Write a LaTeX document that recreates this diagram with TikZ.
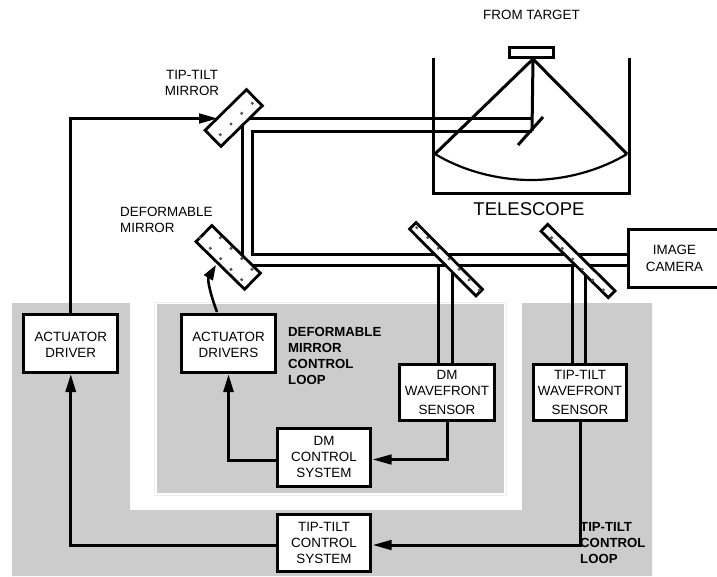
\documentclass[tikz,border=0pt]{standalone}
\usepackage{fontspec}
\setmainfont{Liberation Sans}
\usetikzlibrary{arrows.meta,calc}
\definecolor{panel}{HTML}{CCCCCC}
\definecolor{panedge}{HTML}{EEEEEE}
\definecolor{dotc}{HTML}{555555}
\newcommand{\lowerby}{\rule{0pt}{12.6pt}}
\tikzset{
  lbl/.style={font=\fontsize{13.4}{16}\selectfont,inner sep=0pt,align=center},
  lbll/.style={font=\fontsize{13.4}{16}\selectfont,inner sep=0pt,align=left},
  blbl/.style={font=\fontsize{13.2}{16}\selectfont\bfseries,inner sep=0pt,align=left},
  unit/.style={draw,line width=3pt,fill=white,inner sep=0pt,align=center,font=\fontsize{13.4}{16}\selectfont},
  mirrorbox/.style={draw,line width=2.8pt,fill=white,inner sep=0pt},
  sig/.style={line width=3pt},
  sigarrow/.style={line width=3pt,-{Triangle[length=18pt,width=10pt]}},
  sighoriz/.style={line width=3pt,-{Triangle[length=19pt,width=9.5pt]}},
  beam/.style={line width=3pt},
  optic/.style={line width=3pt},
  dot/.style={fill=dotc,draw=none}
}
\newcommand{\spots}[1]{\foreach \px/\py in {#1} {\fill[dot] (\px,\py) circle (1.7pt);}}
\begin{document}
\begin{tikzpicture}[x=1pt,y=-1pt]
\useasboundingbox (0,0) rectangle (717,576);
% shaded loops
\fill[panel] (12,303) -- (130,303) -- (130,510) -- (522,510) -- (522,303) -- (652,303) -- (652,576) -- (12,576) -- cycle;
\draw[panedge,line width=0.8pt,fill=white] (154.5,302) rectangle (506,495);
\fill[panel] (157,304) rectangle (504,493);
% named points
\coordinate (apex) at (533,59);
\coordinate (primL) at (435,154);
\coordinate (primR) at (627,154);
\coordinate (primB) at (531,180);
\coordinate (foldA) at (532,118.5);
\coordinate (foldB) at (532,131);
\coordinate (tel1) at (433,58);
\coordinate (tel2) at (433,193);
\coordinate (tel3) at (629,193);
\coordinate (tel4) at (629,58);
\coordinate (foldLo) at (518,145);
\coordinate (foldHi) at (543,117);
\coordinate (cornerA) at (252,131);
\coordinate (cornerB) at (252,254);
\coordinate (ttout) at (242,118.5);
\coordinate (dmin) at (242,258);
\coordinate (dmout) at (245,265);
\coordinate (camA) at (628,254);
\coordinate (camB) at (628,265);
\coordinate (bs1A) at (438,265);
\coordinate (bs1B) at (452,262);
\coordinate (bs2A) at (572,265);
\coordinate (bs2B) at (585,262);
% telescope
\draw[optic] (tel1) -- (tel2) -- (tel3) -- (tel4);
\draw[optic,line join=miter] (primL) -- (apex) -- (primR);
\draw[line width=2.2pt] (primL) .. controls (465,172) and (500,180) .. (primB) .. controls (562,180) and (597,172) .. (primR);
\draw[optic] (apex) -- (foldB);
\draw[optic] (foldLo) -- (foldHi);
% boxes
\node[unit,minimum width=44pt,minimum height=10pt] (sec) at (531,52) {};
\node[unit,minimum width=94pt,minimum height=58pt] (actd) at (70.75,343.5) {\lowerby ACTUATOR\\DRIVER};
\node[unit,minimum width=94.4pt,minimum height=58.4pt] (actm) at (228.5,343.5) {\lowerby ACTUATOR\\DRIVERS};
\node[unit,minimum width=93.4pt,minimum height=57.4pt] (dmc) at (324,457.3) {DM\\CONTROL\\SYSTEM};
\node[unit,minimum width=93.4pt,minimum height=57.4pt] (ttc) at (324,542.8) {TIP-TILT\\CONTROL\\SYSTEM};
\node[unit,minimum width=95.4pt,minimum height=56.4pt] (dmw) at (447,392.5) {DM\\WAVEFRONT\\[3pt]SENSOR};
\node[unit,minimum width=93.4pt,minimum height=56.4pt] (ttw) at (580,392.5) {TIP-TILT\\WAVEFRONT\\[3pt]SENSOR};
\node[unit,minimum width=92pt,minimum height=58.4pt] (cam) at (674.5,258.5) {IMAGE\\[1.5pt]CAMERA};
% optical beams
\draw[beam] (ttout) -- (foldA);
\draw[beam,line join=miter] (foldB) -- (cornerA) -- (cornerB) -- (camA);
\draw[beam] (ttout) -- (dmin);
\draw[beam] (dmout) -- (camB);
\draw[beam] (bs1A) -- (bs1A |- dmw.north);
\draw[beam] (bs1B) -- (bs1B |- dmw.north);
\draw[beam] (bs2A) -- (bs2A |- ttw.north);
\draw[beam] (bs2B) -- (bs2B |- ttw.north);
% mirrors
\node[mirrorbox,minimum width=58pt,minimum height=22.6pt,rotate=44.5] (ttm) at (233.7,118) {};
\node[mirrorbox,minimum width=68pt,minimum height=22.6pt,rotate=-44.4] (dmm) at (228.2,257.4) {};
\node[mirrorbox,minimum width=94.2pt,minimum height=9.2pt,rotate=-45.2] (bs1) at (446,259.2) {};
\node[mirrorbox,minimum width=94.5pt,minimum height=9.6pt,rotate=-44.6] (bs2) at (578,261) {};
\spots{252.3/103.3,241.7/113.3,231/124,220.3/134.7}
\spots{220.3/237.7,231/248.3,241.7/258.7,252/269.3,200/237.7,210.3/248.3,220.7/258.7,231/269.3,241.7/279.7}
\spots{416.7/227.7,427.7/237.7,438.3/248.3,449/259,459/269.3,469/280,479.3/290}
\spots{551.7/237.7,562.3/248.3,572.7/259,582.3/269.3,592.7/280,603.3/290}
% control signals
\coordinate (ttdrv) at (70.75,118.5);
\coordinate (tthit) at (218,118.5);
\coordinate (ttin) at (372.5,545);
\coordinate (dmin2) at (372.5,459.5);
\coordinate (ttcL) at (276,545);
\coordinate (dmcL) at (276,460);
\coordinate (actmA) at (217,312);
\coordinate (dmhit) at (216,265);
\draw[sig,line join=miter] (actd.north) -- (ttdrv) -- ++(130,0);
\draw[sighoriz] (ttdrv) -- (tthit);
\draw[sigarrow] (ttcL) -| (actd.south);
\draw[sigarrow] (dmcL) -| (actm.south);
\draw[sighoriz] (dmw.south) |- (dmin2);
\draw[sighoriz] (ttw.south) |- (ttin);
\draw[line width=2.6pt,-{Triangle[length=15pt,width=10pt]}] (actmA) .. controls (211,296) and (207,280) .. (dmhit);
% labels
\node[lbl] (lfrom) at (531.5,15) {FROM TARGET};
\node[lbl,font=\fontsize{18.5}{20}\selectfont] (ltel) at (529,209) {TELESCOPE};
\node[lbl] (lttm) at (192,83) {TIP-TILT\\MIRROR};
\node[lbll,anchor=west] (ldmm) at (120,219.5) {DEFORMABLE\\MIRROR};
\node[blbl,anchor=west] (ldml) at (288,355.5) {DEFORMABLE\\MIRROR\\CONTROL\\LOOP};
\node[blbl,anchor=west] (lttl) at (580,542.7) {TIP-TILT\\CONTROL\\LOOP};
\end{tikzpicture}
\end{document}
